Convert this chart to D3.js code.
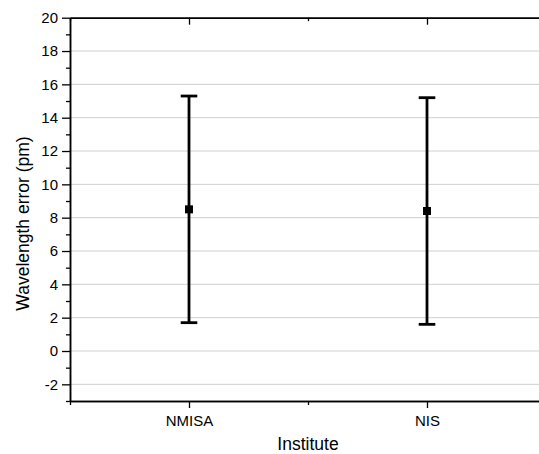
<!DOCTYPE html>
<html>
<head>
<meta charset="utf-8">
<script src="https://cdn.jsdelivr.net/npm/d3@7"></script>
<style>
  html, body { margin: 0; padding: 0; background: #fff; }
  svg { display: block; font-family: Arial, "Liberation Sans", sans-serif; }
</style>
</head>
<body>
<svg id="chart" width="539" height="454"></svg>
<script>
const institutes = ["NMISA", "NIS"];
const meanError = [8.5, 8.4];
const lowerError = [1.7, 1.6];
const upperError = [15.3, 15.2];
const yTickValues = [-2, 0, 2, 4, 6, 8, 10, 12, 14, 16, 18, 20];
const yMinorValues = [-3, -1, 1, 3, 5, 7, 9, 11, 13, 15, 17, 19];
const xMinorValues = [0.5, 1.5, 2.5];

(function () {
const svg = d3.select("#chart");
const pLeft = 70, pRight = 546, pTop = 17.7, pBottom = 401;

const x = d3.scaleLinear().domain([0.5, 2.5]).range([pLeft, pRight]);
const y = d3.scaleLinear().domain([-3, 20]).range([pBottom, pTop]);

// gridlines
svg.append("g").selectAll("line")
  .data(yTickValues.filter(v => v < 20))
  .join("line")
  .attr("x1", pLeft).attr("x2", pRight)
  .attr("y1", d => y(d)).attr("y2", d => y(d))
  .attr("stroke", "#cfcfcf").attr("stroke-width", 1);

const catPos = institutes.map((c, i) => i + 1);

const axisStyle = g => {
  g.selectAll(".domain").attr("stroke", "#000").attr("stroke-width", 1.5);
  g.selectAll(".tick line").attr("stroke", "#000").attr("stroke-width", 1.3);
  g.selectAll(".tick text").attr("font-size", "15px").attr("fill", "#000")
    .attr("font-family", "Arial, 'Liberation Sans', sans-serif");
};

// left axis major
svg.append("g").attr("transform", `translate(${pLeft},0)`)
  .call(d3.axisLeft(y).tickValues(yTickValues).tickFormat(d => String(d)).tickSize(8).tickPadding(4).tickSizeOuter(0))
  .call(axisStyle);
// left minor
svg.append("g").attr("transform", `translate(${pLeft},0)`)
  .call(d3.axisLeft(y).tickValues(yMinorValues).tickSize(4).tickFormat("").tickSizeOuter(0))
  .call(axisStyle);

// bottom axis major
svg.append("g").attr("transform", `translate(0,${pBottom})`)
  .call(d3.axisBottom(x).tickValues(catPos).tickFormat(d => institutes[d - 1]).tickSize(7).tickPadding(7).tickSizeOuter(0))
  .call(axisStyle);
svg.append("g").attr("transform", `translate(0,${pBottom})`)
  .call(d3.axisBottom(x).tickValues(xMinorValues).tickFormat("").tickSize(4).tickSizeOuter(0))
  .call(axisStyle);

// top axis inward ticks
svg.append("g").attr("transform", `translate(0,${pTop})`)
  .call(d3.axisBottom(x).tickValues(catPos).tickFormat("").tickSize(7).tickSizeOuter(0))
  .call(axisStyle);
svg.append("g").attr("transform", `translate(0,${pTop})`)
  .call(d3.axisBottom(x).tickValues(xMinorValues).tickFormat("").tickSize(3.5).tickSizeOuter(0))
  .call(axisStyle);

// error bars
const data = institutes.map((c, i) => ({ pos: i + 1, mean: meanError[i], lo: lowerError[i], hi: upperError[i] }));
const capHalf = 8.3;
const eb = svg.append("g").selectAll("g").data(data).join("g");
eb.append("line")
  .attr("x1", d => x(d.pos)).attr("x2", d => x(d.pos))
  .attr("y1", d => y(d.lo)).attr("y2", d => y(d.hi))
  .attr("stroke", "#000").attr("stroke-width", 2.8);
eb.append("line")
  .attr("x1", d => x(d.pos) - capHalf).attr("x2", d => x(d.pos) + capHalf)
  .attr("y1", d => y(d.hi)).attr("y2", d => y(d.hi))
  .attr("stroke", "#000").attr("stroke-width", 2.8);
eb.append("line")
  .attr("x1", d => x(d.pos) - capHalf).attr("x2", d => x(d.pos) + capHalf)
  .attr("y1", d => y(d.lo)).attr("y2", d => y(d.lo))
  .attr("stroke", "#000").attr("stroke-width", 2.8);
eb.append("rect")
  .attr("x", d => x(d.pos) - 4).attr("y", d => y(d.mean) - 4)
  .attr("width", 8).attr("height", 8)
  .attr("fill", "#000");

// axis titles
svg.append("text")
  .attr("x", (pLeft + pRight) / 2).attr("y", 450)
  .attr("text-anchor", "middle").attr("font-size", "17.5px").attr("fill", "#000")
  .text("Institute");
svg.append("text")
  .attr("transform", `translate(29,223.5) rotate(-90)`)
  .attr("text-anchor", "middle").attr("font-size", "17.5px").attr("fill", "#000")
  .text("Wavelength error (pm)");
})();
</script>
</body>
</html>
